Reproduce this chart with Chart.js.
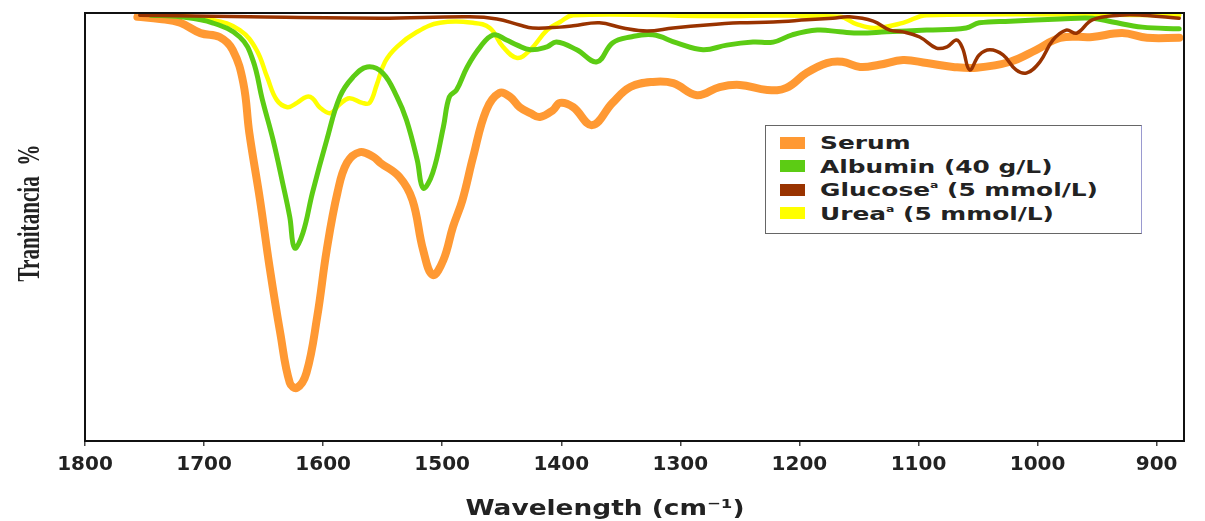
<!DOCTYPE html>
<html>
<head>
<meta charset="utf-8">
<title>Serum FTIR spectra</title>
<script src="https://cdn.jsdelivr.net/npm/chart.js@4.4.1/dist/chart.umd.min.js"></script>
<style>
    html, body { margin: 0; padding: 0; background: #fff; }
    #wrap { position: relative; width: 1205px; height: 521px; }
    #legend {
        position: absolute; left: 765px; top: 125px; width: 377px; height: 109px;
        box-sizing: border-box; border: 1px solid #666; border-right-color: #9a9ad0;
        background: #fff; padding: 5px 0 0 14px;
    }
    .item { height: 23.5px; display: flex; align-items: center; }
    .swatch { width: 25px; height: 12px; margin-right: 15px; flex: none; }
    .label {
        font: bold 18px "DejaVu Sans", sans-serif; color: #222; white-space: nowrap;
        transform: scaleX(1.38); transform-origin: left center;
    }
    .label sup { font-size: 0.5em; vertical-align: 0.9em; }
</style>
</head>
<body>
<div id="wrap">
    <canvas id="spectraChart" width="1205" height="521"></canvas>
    <div id="legend"></div>
</div>
<script>
// wavenumber ticks along the bottom axis (cm-1)
const xTicks = [1800, 1700, 1600, 1500, 1400, 1300, 1200, 1100, 1000, 900];

const seriesNames = ['Serum', 'Albumin (40 g/L)', 'Glucose<sup>a</sup> (5 mmol/L)', 'Urea<sup>a</sup> (5 mmol/L)'];
const seriesColors = ['#ff9933', '#5ccc14', '#993300', '#ffff00'];

// Serum
const serumWn = [1756, 1737, 1720, 1703, 1687, 1676, 1667, 1662, 1653, 1645, 1636, 1628, 1622, 1614, 1605, 1597, 1588, 1580, 1569, 1558,
    1552, 1536, 1525, 1516, 1508, 1499, 1491, 1483, 1474, 1463, 1452, 1443, 1435, 1426, 1418, 1407, 1401, 1390, 1374, 1357,
    1342, 1323, 1306, 1286, 1267, 1250, 1227, 1211, 1194, 1177, 1164, 1149, 1133, 1113, 1093, 1071, 1051, 1023, 1001, 981,
    954, 929, 908, 881];
const serumT = [99.1, 98.6, 97.7, 95.3, 94.4, 91.4, 83.6, 72.0, 56.3, 40.7, 25.2, 13.6, 12.4, 15.9, 29.0, 44.6, 58.0, 65.0, 67.5, 66.4,
    65.0, 61.7, 56.3, 44.6, 38.8, 42.3, 50.0, 56.3, 66.4, 77.3, 81.3, 80.4, 78.0, 76.6, 75.7, 77.3, 79.0, 78.0, 73.8, 79.0,
    82.7, 83.9, 83.6, 80.8, 82.7, 83.2, 82.0, 82.5, 86.0, 88.3, 88.6, 87.4, 87.9, 89.0, 88.3, 87.4, 87.2, 88.6, 91.4, 94.2,
    94.4, 95.3, 94.2, 94.2];

// Albumin
const albuminWn = [1745, 1720, 1693, 1670, 1659, 1651, 1642, 1634, 1628, 1624, 1617, 1609, 1597, 1586, 1575, 1563, 1550, 1538, 1530, 1521,
    1516, 1508, 1499, 1494, 1488, 1479, 1468, 1457, 1446, 1437, 1426, 1412, 1404, 1387, 1370, 1357, 1342, 1323, 1303, 1281,
    1261, 1239, 1222, 1206, 1185, 1166, 1149, 1127, 1093, 1060, 1049, 1023, 981, 954, 937, 912, 881];
const albuminT = [99.5, 99.1, 97.7, 94.4, 89.0, 79.7, 70.3, 60.3, 52.3, 45.1, 48.6, 58.0, 70.3, 80.4, 85.0, 87.4, 86.0, 80.4, 75.0, 65.7,
    59.1, 62.6, 73.4, 80.4, 82.0, 87.4, 92.1, 94.9, 93.7, 92.5, 91.4, 92.1, 93.2, 91.4, 88.6, 93.0, 94.4, 94.9, 93.0, 91.4,
    92.5, 93.2, 93.2, 94.9, 96.0, 95.6, 95.3, 95.6, 96.0, 96.5, 97.7, 98.1, 98.6, 98.8, 97.9, 96.7, 96.3];

// Glucose
const glucoseWn = [1754, 1662, 1552, 1477, 1454, 1435, 1424, 1401, 1390, 1368, 1348, 1328, 1306, 1278, 1250, 1222, 1194, 1172, 1158, 1138,
    1124, 1113, 1099, 1085, 1076, 1068, 1063, 1057, 1049, 1040, 1029, 1018, 1009, 998, 987, 976, 967, 954, 931, 912, 881];
const glucoseT = [99.5, 99.1, 98.8, 99.1, 98.6, 97.2, 96.5, 96.7, 97.0, 97.7, 96.5, 95.8, 96.5, 97.2, 97.7, 97.9, 98.4, 98.8, 99.1, 98.1,
    96.0, 95.6, 94.4, 91.8, 92.1, 93.7, 91.8, 86.7, 90.2, 91.4, 90.2, 86.7, 86.0, 88.6, 93.7, 96.0, 95.3, 98.4, 99.5, 99.5, 98.8];

// Urea
const ureaWn = [1745, 1693, 1670, 1656, 1647, 1639, 1630, 1622, 1614, 1609, 1603, 1594, 1586, 1578, 1567, 1561, 1555, 1548, 1538, 1521,
    1502, 1474, 1460, 1449, 1437, 1426, 1412, 1401, 1390, 1284, 1166, 1152, 1137, 1113, 1093, 881];
const ureaT = [99.8, 98.4, 96.0, 91.4, 85.0, 79.7, 78.0, 79.0, 80.4, 80.1, 78.0, 76.6, 78.7, 80.1, 79.0, 79.0, 83.2, 88.6, 92.1, 95.6,
    97.7, 97.7, 96.5, 92.1, 89.5, 91.4, 96.0, 97.9, 99.5, 99.3, 99.1, 97.4, 96.5, 97.7, 99.5, 99.5];

function toPoints(xs, ys) {
    return xs.map((x, i) => ({ x: x, y: ys[i] }));
}

// black box round the plot area
const plotFrame = {
    id: 'plotFrame',
    afterDraw(chart) {
        const { ctx, chartArea } = chart;
        ctx.save();
        ctx.strokeStyle = '#111';
        ctx.lineWidth = 2;
        ctx.strokeRect(chartArea.left, chartArea.top, chartArea.right - chartArea.left, chartArea.bottom - chartArea.top);
        ctx.restore();
    }
};

// axis titles, stretched a little like the scanned original
const axisTitles = {
    id: 'axisTitles',
    afterDraw(chart) {
        const ctx = chart.ctx;
        ctx.save();
        ctx.fillStyle = '#222';
        ctx.textAlign = 'center';
        ctx.textBaseline = 'middle';

        ctx.save();
        ctx.translate(605, 509);
        ctx.scale(1.2, 1);
        ctx.font = 'bold 22px "DejaVu Sans"';
        ctx.fillText('Wavelength (cm\u207B\u00B9)', 0, 0);
        ctx.restore();

        ctx.translate(31, 213);
        ctx.rotate(-Math.PI / 2);
        ctx.scale(0.66, 1);
        ctx.font = 'bold 32px "Liberation Serif"';
        ctx.fillText('Tranitancia  %', 0, 0);
        ctx.restore();
    }
};

const datasets = [
    { label: 'Serum', data: toPoints(serumWn, serumT), borderColor: seriesColors[0], borderWidth: 8, order: 4 },
    { label: 'Albumin', data: toPoints(albuminWn, albuminT), borderColor: seriesColors[1], borderWidth: 5, order: 2 },
    { label: 'Glucose', data: toPoints(glucoseWn, glucoseT), borderColor: seriesColors[2], borderWidth: 3.5, order: 1 },
    { label: 'Urea', data: toPoints(ureaWn, ureaT), borderColor: seriesColors[3], borderWidth: 4.5, order: 3 }
];
datasets.forEach(ds => {
    ds.pointRadius = 0;
    ds.fill = false;
    ds.tension = 0.4;
    ds.borderCapStyle = 'round';
    ds.borderJoinStyle = 'round';
});

new Chart(document.getElementById('spectraChart'), {
    type: 'line',
    data: { datasets: datasets },
    options: {
        responsive: false,
        animation: false,
        layout: { padding: { top: 13, right: 21, left: 0, bottom: 0 } },
        plugins: {
            legend: { display: false },
            tooltip: { enabled: false }
        },
        scales: {
            x: {
                type: 'linear',
                reverse: true,
                min: 877,
                max: 1800,
                afterBuildTicks: axis => { axis.ticks = xTicks.map(v => ({ value: v })); },
                afterFit: axis => { axis.height = 80; },
                grid: { display: true, drawOnChartArea: false, tickLength: 5, color: '#444', lineWidth: 1.5 },
                border: { display: false },
                ticks: {
                    autoSkip: false,
                    maxRotation: 0,
                    padding: 7,
                    color: '#222',
                    font: { family: 'DejaVu Sans', size: 20, weight: 'bold' },
                    callback: value => String(value)
                }
            },
            y: {
                min: 0,
                max: 100,
                afterFit: axis => { axis.width = 85; },
                grid: { display: false },
                border: { display: false },
                ticks: { display: false }
            }
        }
    },
    plugins: [plotFrame, axisTitles]
});

// legend box inside the plot
const legendEl = document.getElementById('legend');
legendEl.innerHTML = seriesNames.map((name, i) => `
    <div class="item">
        <span class="swatch" style="background:${seriesColors[i]}"></span>
        <span class="label">${name}</span>
    </div>
`).join('');
</script>
</body>
</html>
